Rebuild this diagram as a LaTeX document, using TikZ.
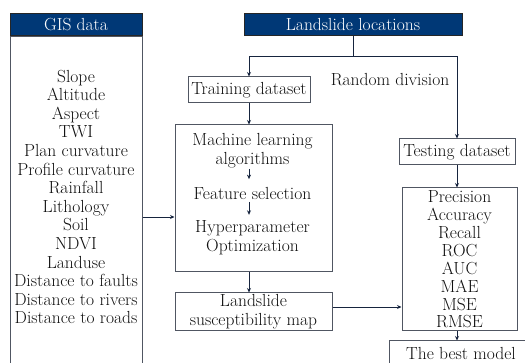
\documentclass[tikz,border=0pt]{standalone}
\usetikzlibrary{arrows.meta}
\definecolor{navyhead}{RGB}{0,56,118}
\definecolor{edgegray}{RGB}{80,86,98}
\definecolor{linknavy}{RGB}{22,36,62}
\definecolor{textgray}{RGB}{15,15,15}
\tikzset{
	box/.style={draw=edgegray, line width=1pt, inner sep=0pt, align=center, text=textgray, font=\fontsize{17.5}{18.6}\selectfont},
	headbox/.style={box, fill=navyhead, draw=black!85, text=white},
	txt/.style={inner sep=0pt, align=center, text=textgray, font=\fontsize{17.5}{18.6}\selectfont},
	link/.style={draw=linknavy, line width=0.9pt},
	arr/.style={link, -{Stealth[length=4.5pt,width=4pt]}},
}
\begin{document}
\begin{tikzpicture}[x=1pt, y=-1pt]
		\useasboundingbox (0,0) rectangle (525,363);
		\clip (0,0) rectangle (525,363);
		% GIS data column
		\node[headbox, minimum width=132pt, minimum height=22pt] (gishead) at (76,25) {GIS data};
		\node[box, minimum width=132pt, minimum height=340pt, anchor=north] (gisbody) at (gishead.south) {};
		\node[txt] (gislist) at (76,197) {Slope\\Altitude\\Aspect\\TWI\\Plan curvature\\Profile curvature\\Rainfall\\Lithology\\Soil\\NDVI\\Landuse\\Distance to faults\\Distance to rivers\\Distance to roads};
		% landslide inventory and split
		\node[headbox, minimum width=218pt, minimum height=22pt] (lochead) at (353,25) {Landslide locations};
		\coordinate (split) at (353,56);
		\node[box, minimum width=122pt, minimum height=26pt] (train) at (249,90) {Training dataset};
		\node[box, minimum width=116pt, minimum height=26pt] (test) at (457,152) {Testing dataset};
		\node[txt] (divlabel) at (390,80) {Random division};
		\draw[link] (lochead.south) -- (split);
		\draw[arr] (split) -| (train.north);
		\draw[arr] (split) -| (test.north);
		% modelling
		\node[box, minimum width=157pt, minimum height=147pt] (mlbox) at (253.5,198.5) {};
		\node[txt] (mlalg) at (252.5,151) {Machine learning\\algorithms};
		\node[txt] (featsel) at (252.5,193) {Feature selection};
		\node[txt] (hyper) at (252.5,238) {Hyperparameter\\Optimization};
		\draw[arr] ([xshift=-3.5pt, yshift=-0.5pt]mlalg.south) -- ([xshift=-3.5pt, yshift=7.5pt]featsel.north);
		\draw[arr] ([xshift=-3.5pt, yshift=-2.5pt]featsel.south) -- ([xshift=-3.5pt, yshift=6pt]hyper.north);
		\draw[arr] (train.south) -- (train.south |- mlbox.north);
		\coordinate (mlin) at ([yshift=-18.5pt]mlbox.west);
		\draw[arr] (gisbody.east |- mlin) -- (mlin);
		\node[box, minimum width=157pt, minimum height=38pt] (susmap) at (253.5,312) {Landslide\\susceptibility map};
		\draw[arr] (mlbox.south -| train) -- (susmap.north -| train);
		% validation
		\node[box, minimum width=115pt, minimum height=143pt, font=\fontsize{17.5}{17.9}\selectfont] (metrics) at (459.5,259.5) {Precision\\Accuracy\\Recall\\ROC\\AUC\\MAE\\MSE\\RMSE};
		\draw[arr] (test.south) -- (test.south |- metrics.north);
		\draw[arr] ([yshift=5pt]susmap.east) -- ([yshift=5pt]susmap.east -| metrics.west);
		\node[box, minimum width=144pt, minimum height=25pt] (best) at (461,353.5) {The best model};
		\draw[arr] (metrics.south -| test) -- (best.north -| test);
	\end{tikzpicture}
\end{document}
